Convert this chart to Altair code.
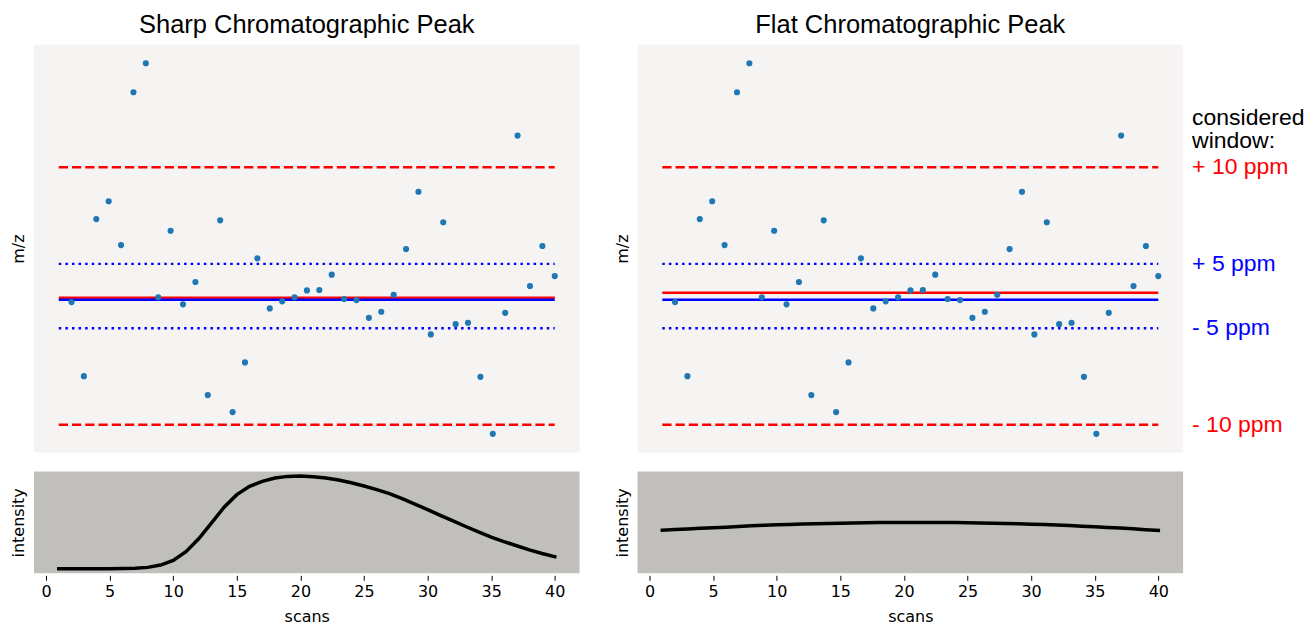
import altair as alt
import pandas as pd
import numpy as np

# ---------------- data ----------------
scans = list(range(1, 41))
point_scans = list(np.round(np.linspace(2, 40, 40), 3))

# m/z deviation (ppm) of the 40 measured points
mz_ppm = [-0.47, -6.22, 5.98, 7.36, 3.96, 15.83, 18.08, -0.10, 5.07, -0.64,
          1.09, -7.69, 5.88, -9.01, -5.15, 2.93, -0.96, -0.41, -0.10, 0.44,
          0.47, 1.66, -0.23, -0.31, -1.69, -1.22, 0.10, 3.65, 8.10, -2.98,
          5.73, -2.18, -2.07, -6.27, -10.70, -1.30, 12.46, 0.78, 3.89, 1.55]

intensity_sharp = [0.0, 0.0, 0.0, 0.0, 0.0, 0.001, 0.004, 0.014, 0.039, 0.090,
                   0.183, 0.323, 0.491, 0.663, 0.799, 0.889, 0.943, 0.978, 0.996, 1.000,
                   0.993, 0.978, 0.957, 0.927, 0.892, 0.853, 0.810, 0.755, 0.697, 0.638,
                   0.576, 0.515, 0.455, 0.397, 0.341, 0.292, 0.247, 0.203, 0.164, 0.129]

intensity_flat = [0.416, 0.423, 0.429, 0.435, 0.441, 0.448, 0.455, 0.462, 0.468, 0.473,
                  0.477, 0.481, 0.485, 0.488, 0.491, 0.493, 0.495, 0.497, 0.498, 0.498,
                  0.499, 0.498, 0.498, 0.497, 0.495, 0.493, 0.490, 0.487, 0.484, 0.480,
                  0.476, 0.471, 0.465, 0.459, 0.452, 0.445, 0.438, 0.430, 0.421, 0.412]

window_outer = [10.0, -10.0]      # +/- 10 ppm
window_inner = [2.5, -2.5]        # +/- 5 ppm lines
true_mz = -0.29                   # blue reference line
mean_mz_sharp = -0.13             # red line, sharp peak
mean_mz_flat = 0.26               # red line, flat peak

titles = ["Sharp Chromatographic Peak", "Flat Chromatographic Peak"]
window_labels = ["+ 10 ppm", "+ 5 ppm", "- 5 ppm", "- 10 ppm"]
window_label_levels = [10.0, 2.5, -2.5, -10.0]
window_label_colors = ["#ff0000", "#0000ff", "#0000ff", "#ff0000"]
tick_values = [0, 5, 10, 15, 20, 25, 30, 35, 40]

# ---------------- styling ----------------
AX_FONT = "DejaVu Sans"
TXT_FONT = "Liberation Sans"
W, H_TOP, H_BOT = 546, 408, 102
XD = [-0.95, 41.95]
YD_TOP = [-12.14, 19.52]
YD_BOT = [-0.05, 1.05]
TOP_BG = "#f5f4f2"
BOT_BG = "#c0bfbb"
ANN_SIZE = 23
ANN_X = 555


def x_scale():
    return alt.Scale(domain=XD, nice=False, zero=False)


def y_axis(title, center):
    return alt.Axis(title=title, labels=False, ticks=False, domain=False, grid=False,
                    titleX=-15, titleY=center, titleAngle=270, titleAlign="center",
                    titleBaseline="middle", titleFont=AX_FONT, titleFontSize=16,
                    titleFontWeight="normal", titleColor="black")


def top_panel(title, red_level, with_labels):
    ysc = alt.Scale(domain=YD_TOP, nice=False, zero=False)
    yax = y_axis("m/z", H_TOP / 2)
    X = alt.X("x:Q", scale=x_scale(), axis=None)
    X2 = alt.X2("x2:Q")
    Y = alt.Y("y:Q", scale=ysc, axis=yax)

    outer = pd.DataFrame({"x": [1] * 2, "x2": [40] * 2, "y": window_outer})
    inner = pd.DataFrame({"x": [1] * 2, "x2": [40] * 2, "y": window_inner})
    red = pd.DataFrame({"x": [1], "x2": [40], "y": [red_level]})
    blue = pd.DataFrame({"x": [1], "x2": [40], "y": [true_mz]})
    pts = pd.DataFrame({"x": point_scans, "y": mz_ppm})

    layers = [
        alt.Chart(outer).mark_rule(color="#ff0000", strokeWidth=2.5, strokeDash=[9.25, 4])
        .encode(x=X, x2=X2, y=Y),
        alt.Chart(inner).mark_rule(color="#0000ff", strokeWidth=2.5, strokeDash=[2.5, 4.1])
        .encode(x=X, x2=X2, y=Y),
        alt.Chart(red).mark_rule(color="#ff0000", strokeWidth=2.5).encode(x=X, x2=X2, y=Y),
        alt.Chart(blue).mark_rule(color="#0000ff", strokeWidth=2.5).encode(x=X, x2=X2, y=Y),
        alt.Chart(pts).mark_circle(color="#1f77b4", opacity=1, size=38).encode(x=X, y=Y),
    ]
    if with_labels:
        lab = pd.DataFrame({"x": [0] * 4, "y": window_label_levels,
                            "t": window_labels, "c": window_label_colors})
        hdr = pd.DataFrame({"x": [0], "y": [10.0]})
        layers.append(
            alt.Chart(lab).mark_text(align="left", baseline="middle", font=TXT_FONT,
                                     fontSize=ANN_SIZE)
            .encode(x=alt.value(ANN_X), y=Y, text="t:N", color=alt.Color("c:N", scale=None)))
        layers.append(
            alt.Chart(hdr).mark_text(align="left", baseline="middle", font=TXT_FONT,
                                     fontSize=ANN_SIZE, color="black", text="considered",
                                     dy=-49)
            .encode(x=alt.value(ANN_X), y=Y))
        layers.append(
            alt.Chart(hdr).mark_text(align="left", baseline="middle", font=TXT_FONT,
                                     fontSize=ANN_SIZE, color="black", text="window:",
                                     dy=-26)
            .encode(x=alt.value(ANN_X), y=Y))
    return alt.layer(*layers).properties(
        width=W, height=H_TOP,
        title=alt.TitleParams(title, font=TXT_FONT, fontSize=25.5, fontWeight="normal",
                              color="black", anchor="middle", frame="group", offset=6.5),
        view=alt.ViewBackground(fill=TOP_BG, strokeWidth=0))


def bottom_panel(values):
    df = pd.DataFrame({"x": scans, "y": values})
    xax = alt.Axis(values=tick_values, domain=False, grid=False, tickSize=5, offset=2,
                   tickColor="black", tickWidth=1, labelPadding=3, labelFont=AX_FONT,
                   labelFontSize=16, labelColor="black", labelFlush=False,
                   labelOverlap=False, title="scans", titleFont=AX_FONT, titleFontSize=16,
                   titleFontWeight="normal", titleColor="black", titleBaseline="alphabetic",
                   titleY=46)
    return alt.Chart(df).mark_line(color="black", strokeWidth=3.5, strokeCap="square").encode(
        x=alt.X("x:Q", scale=x_scale(), axis=xax),
        y=alt.Y("y:Q", scale=alt.Scale(domain=YD_BOT, nice=False, zero=False),
                axis=y_axis("intensity", H_BOT / 2)),
    ).properties(width=W, height=H_BOT,
                 view=alt.ViewBackground(fill=BOT_BG, strokeWidth=0))


chart = alt.concat(
    top_panel(titles[0], mean_mz_sharp, False),
    top_panel(titles[1], mean_mz_flat, True),
    bottom_panel(intensity_sharp),
    bottom_panel(intensity_flat),
    columns=2, spacing={"row": 19, "column": 58}, bounds="flush",
).resolve_scale(x="independent", y="independent").properties(
    padding={"left": 2, "top": 4.5, "right": 0, "bottom": 0},
    background="white",
).configure_view(strokeWidth=0)

chart.save("out.html", embed_options={"renderer": "svg", "actions": False})
